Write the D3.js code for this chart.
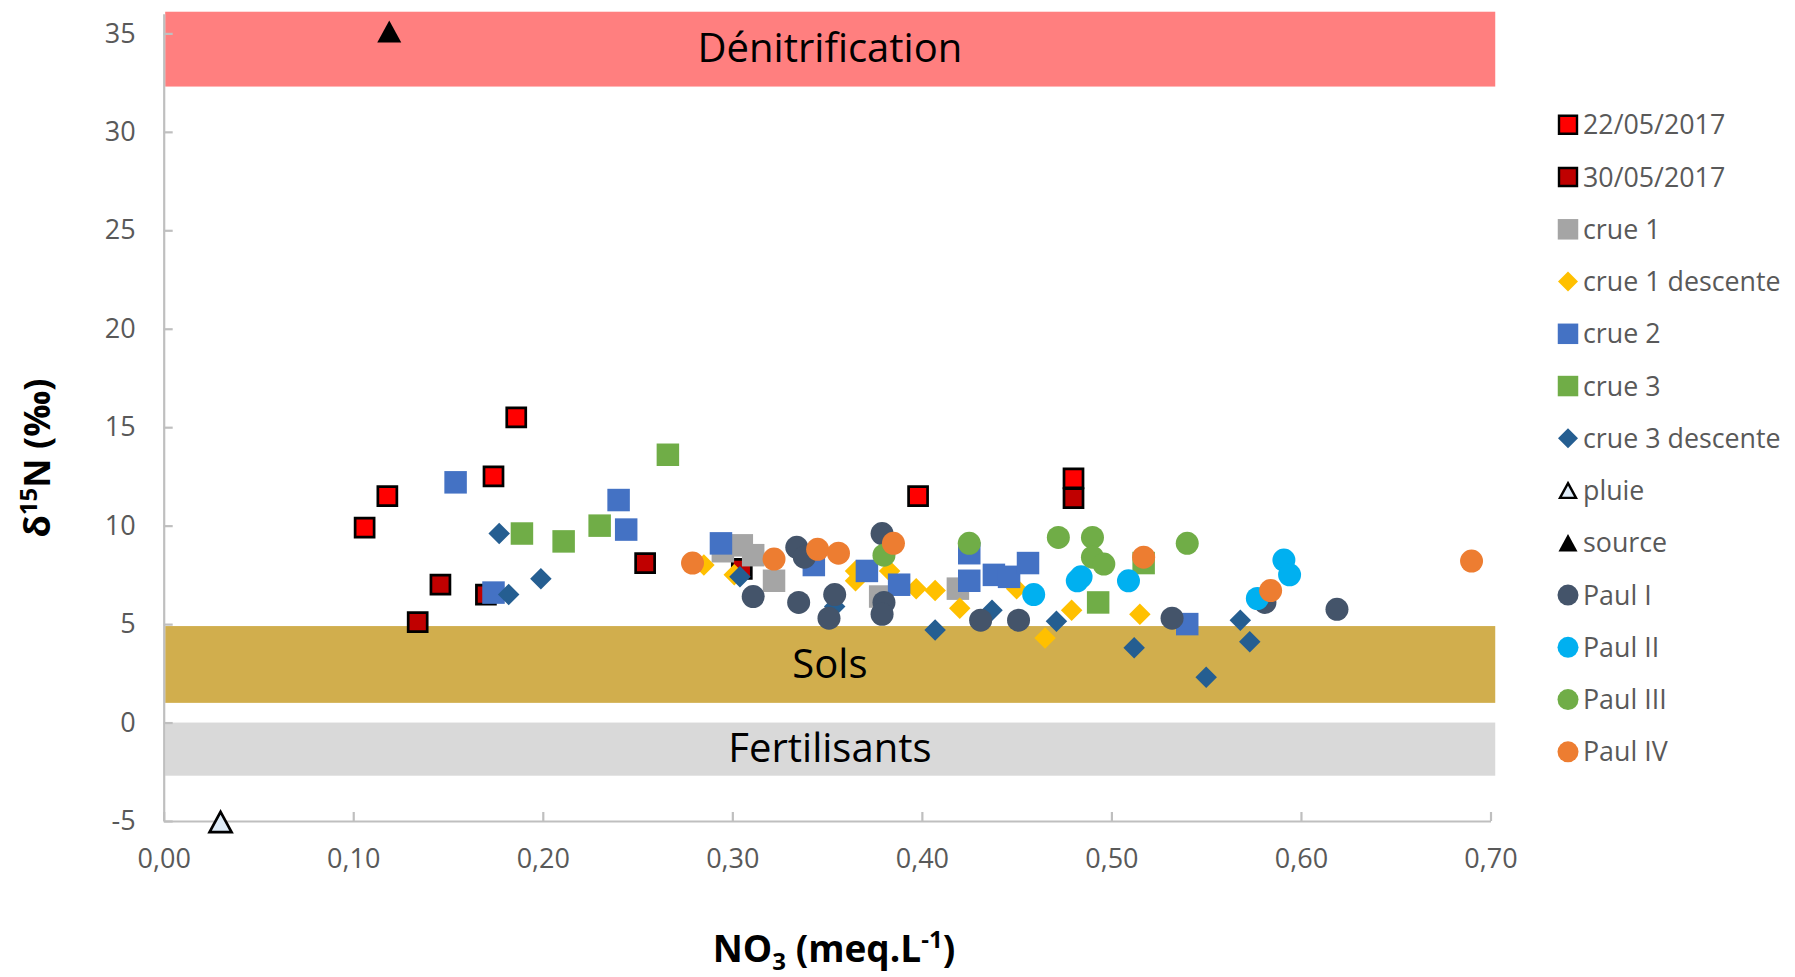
<!DOCTYPE html>
<html>
<head>
<meta charset="utf-8">
<script src="https://cdn.jsdelivr.net/npm/d3@7"></script>
<style>
  html, body { margin: 0; padding: 0; background: #ffffff; }
  svg { display: block; }
  text { font-family: "Open Sans", "Noto Sans", sans-serif; }
</style>
</head>
<body>
<svg id="chart" width="1795" height="977"></svg>
<script>
// ---------------- DATA ----------------
const xTicks = [0, 0.1, 0.2, 0.3, 0.4, 0.5, 0.6, 0.7];
const yTicks = [-5, 0, 5, 10, 15, 20, 25, 30, 35];
const xTickLabels = ["0,00", "0,10", "0,20", "0,30", "0,40", "0,50", "0,60", "0,70"];
const yTickLabels = ["-5", "0", "5", "10", "15", "20", "25", "30", "35"];

const bandNames = ["Dénitrification", "Sols", "Fertilisants"];
const bandLow  = [32.3, 1.0, -2.7];
const bandHigh = [36.1, 4.9, 0.0];
const bandColors = ["#FF7F7F", "#D1AE4D", "#D9D9D9"];

const seriesNames = ["22/05/2017", "30/05/2017", "crue 1", "crue 1 descente", "crue 2", "crue 3",
  "crue 3 descente", "pluie", "source", "Paul I", "Paul II", "Paul III", "Paul IV"];

const s22_05 = [[0.106, 9.9], [0.118, 11.5], [0.174, 12.5], [0.186, 15.5], [0.398, 11.5], [0.480, 12.4]];
const s30_05 = [[0.134, 5.1], [0.146, 7.0], [0.170, 6.5], [0.254, 8.1], [0.305, 7.8], [0.480, 11.4]];
const crue1 = [[0.295, 8.7], [0.305, 9.0], [0.311, 8.5], [0.322, 7.2], [0.378, 6.4], [0.419, 6.8]];
const crue1Descente = [[0.285, 8.0], [0.301, 7.5], [0.365, 7.7], [0.365, 7.2], [0.383, 7.7], [0.397, 6.8],
  [0.407, 6.7], [0.420, 5.8], [0.450, 6.8], [0.465, 4.3], [0.479, 5.7], [0.515, 5.5]];
const crue2 = [[0.154, 12.2], [0.174, 6.6], [0.240, 11.3], [0.244, 9.8], [0.294, 9.1], [0.343, 8.0],
  [0.371, 7.7], [0.388, 7.0], [0.425, 8.6], [0.425, 7.2], [0.438, 7.5], [0.446, 7.4], [0.456, 8.1], [0.540, 5.0]];
const crue3 = [[0.189, 9.6], [0.211, 9.2], [0.230, 10.0], [0.266, 13.6], [0.493, 6.1], [0.517, 8.1]];
const crue3Descente = [[0.177, 9.6], [0.182, 6.5], [0.199, 7.3], [0.304, 7.4], [0.354, 5.9], [0.407, 4.7],
  [0.437, 5.7], [0.471, 5.15], [0.512, 3.8], [0.550, 2.3], [0.568, 5.2], [0.573, 4.1]];
const pluie = [[0.030, -5.05]];
const source = [[0.119, 35.1]];
const paulI = [[0.311, 6.4], [0.334, 8.9], [0.338, 8.4], [0.335, 6.1], [0.354, 6.5], [0.351, 5.3],
  [0.379, 9.6], [0.380, 6.1], [0.379, 5.5], [0.431, 5.2], [0.451, 5.2], [0.532, 5.3], [0.581, 6.1], [0.619, 5.75]];
const paulII = [[0.459, 6.5], [0.482, 7.2], [0.484, 7.4], [0.509, 7.2], [0.577, 6.3], [0.591, 8.25], [0.594, 7.5]];
const paulIII = [[0.380, 8.5], [0.425, 9.1], [0.472, 9.4], [0.490, 9.4], [0.490, 8.4], [0.496, 8.05], [0.540, 9.1]];
const paulIV = [[0.279, 8.1], [0.322, 8.3], [0.345, 8.8], [0.356, 8.6], [0.385, 9.1], [0.517, 8.4], [0.584, 6.7], [0.690, 8.2]];

const seriesData = [s22_05, s30_05, crue1, crue1Descente, crue2, crue3, crue3Descente, pluie, source, paulI, paulII, paulIII, paulIV];
const seriesFill = ["#FF0000", "#C00000", "#A5A5A5", "#FFC000", "#4472C4", "#70AD47", "#255E91",
  "#DEEBF7", "#000000", "#44546A", "#00B0F0", "#70AD47", "#ED7D31"];
const seriesShape = ["squareB", "squareB", "square", "diamond", "square", "square", "diamond",
  "triangleB", "triangle", "circle", "circle", "circle", "circle"];

// ---------------- LAYOUT ----------------
const svg = d3.select("#chart");
svg.append("rect").attr("width", 1795).attr("height", 977).attr("fill", "#fff");

const x = d3.scaleLinear().domain([0, 0.7]).range([163.7, 1490.5]);
const y = d3.scaleLinear().domain([-5, 36]).range([821, 13.7]);

// bands
const bands = bandNames.map((n, i) => ({ name: n, lo: bandLow[i], hi: bandHigh[i], color: bandColors[i] }));
svg.append("g").selectAll("rect").data(bands).join("rect")
  .attr("x", x(0) + 1.5)
  .attr("width", x(0.7025) - x(0) - 1.5)
  .attr("y", d => y(d.hi))
  .attr("height", d => y(d.lo) - y(d.hi))
  .attr("fill", d => d.color);

svg.append("g").selectAll("text").data(bands).join("text")
  .attr("x", x(0.3515))
  .attr("y", d => (y(d.hi) + y(d.lo)) / 2)
  .attr("dy", "0.33em")
  .attr("text-anchor", "middle")
  .attr("font-size", 40)
  .attr("fill", "#000")
  .text(d => d.name);

// axes
const yAxis = d3.axisLeft(y).tickValues(yTicks).tickFormat((d, i) => yTickLabels[i])
  .tickSizeInner(-9).tickSizeOuter(0).tickPadding(28);
const xAxis = d3.axisBottom(x).tickValues(xTicks).tickFormat((d, i) => xTickLabels[i])
  .tickSizeInner(-9).tickSizeOuter(0).tickPadding(28);

const gy = svg.append("g").attr("transform", `translate(${x(0)},0)`).call(yAxis);
const gx = svg.append("g").attr("transform", `translate(0,${y(-5)})`).call(xAxis);
[gy, gx].forEach(g => {
  g.select(".domain").attr("stroke", "#BFBFBF").attr("stroke-width", 2.2);
  g.selectAll(".tick line").attr("stroke", "#BFBFBF").attr("stroke-width", 2.2);
  g.selectAll(".tick text").attr("font-size", 27).attr("fill", "#595959")
    .attr("font-family", '"Open Sans", sans-serif');
});

// markers
function markerPath(shape, s) {
  switch (shape) {
    case "square": case "squareB": {
      const h = s / 2;
      return `M${-h},${-h}H${h}V${h}H${-h}Z`;
    }
    case "diamond": {
      const h = s / 2;
      return `M0,${-h}L${h},0L0,${h}L${-h},0Z`;
    }
    case "circle": {
      const r = s / 2;
      return `M${r},0A${r},${r} 0 1,1 ${-r},0A${r},${r} 0 1,1 ${r},0Z`;
    }
    case "triangle": case "triangleB": {
      const w = s / 2, h = s * 0.46;
      return `M0,${-h}L${w},${h}L${-w},${h}Z`;
    }
  }
}
const plotSize = { square: 22.5, squareB: 19, diamond: 21.5, circle: 23, triangle: 24, triangleB: 22 };
const legendSize = { square: 20.5, squareB: 18, diamond: 20, circle: 21, triangle: 19, triangleB: 16 };

const gPts = svg.append("g");
seriesData.forEach((data, i) => {
  const shape = seriesShape[i];
  const bordered = shape.endsWith("B");
  gPts.append("g").selectAll("path").data(data).join("path")
    .attr("transform", d => `translate(${x(d[0])},${y(d[1])})`)
    .attr("d", markerPath(shape, plotSize[shape]))
    .attr("fill", seriesFill[i])
    .attr("stroke", bordered ? "#000" : "none")
    .attr("stroke-width", bordered ? 2.7 : 0)
    .attr("stroke-linejoin", "miter");
});

// legend
const legend = svg.append("g");
const legY0 = 124.8, legStep = 52.25;
seriesNames.forEach((name, i) => {
  const shape = seriesShape[i];
  const bordered = shape.endsWith("B");
  const cy = legY0 + i * legStep;
  legend.append("path")
    .attr("transform", `translate(1568,${cy})`)
    .attr("d", markerPath(shape, legendSize[shape]))
    .attr("fill", seriesFill[i])
    .attr("stroke", bordered ? "#000" : "none")
    .attr("stroke-width", bordered ? 2.4 : 0);
  legend.append("text")
    .attr("x", 1583).attr("y", cy).attr("dy", "0.36em")
    .attr("font-size", 26.8).attr("fill", "#595959")
    .text(name);
});

// axis titles
const yTitle = svg.append("text")
  .attr("transform", "translate(50,458) rotate(-90)")
  .attr("text-anchor", "middle")
  .attr("font-size", 36).attr("font-weight", "bold").attr("fill", "#000");
yTitle.append("tspan").text("δ");
yTitle.append("tspan").attr("font-size", 24).attr("dy", -13).text("15");
yTitle.append("tspan").attr("dy", 13).text("N (‰)");

const xTitle = svg.append("text")
  .attr("x", 834).attr("y", 962)
  .attr("text-anchor", "middle")
  .attr("font-size", 37).attr("font-weight", "bold").attr("fill", "#000");
xTitle.append("tspan").text("NO");
xTitle.append("tspan").attr("font-size", 24).attr("dy", 8).text("3");
xTitle.append("tspan").attr("dy", -8).text(" (meq.L");
xTitle.append("tspan").attr("font-size", 24).attr("dy", -14).text("-1");
xTitle.append("tspan").attr("dy", 14).text(")");
</script>
</body>
</html>
